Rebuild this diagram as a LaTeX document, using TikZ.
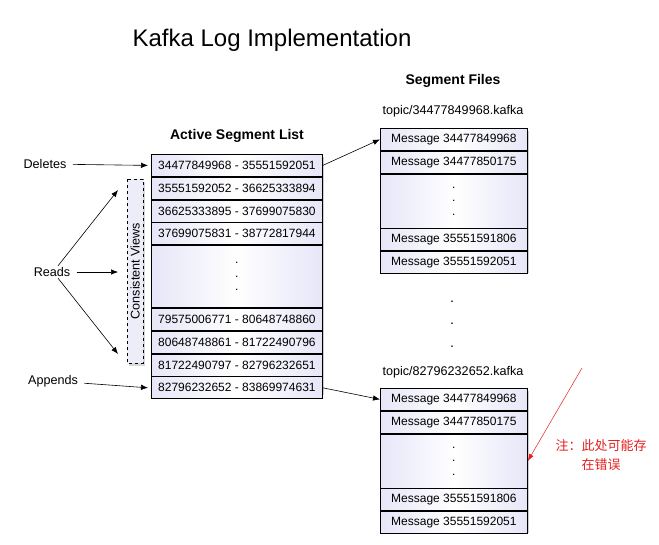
\documentclass[tikz,border=0pt]{standalone}
\usepackage{fontspec}
\setmainfont{Liberation Sans}
\newfontfamily\cjk{Noto Sans CJK SC}
\usetikzlibrary{positioning,shadows,arrows.meta}
\definecolor{lav}{RGB}{230,230,248}
\definecolor{notered}{RGB}{230,30,30}
\tikzset{
  cell/.style={draw,line width=.8pt,inner sep=0pt,minimum height=22pt,
    left color=lav,right color=lav,middle color=white,
    font=\fontsize{12}{14}\selectfont},
  listcell/.style={cell,minimum width=171pt},
  filecell/.style={cell,minimum width=147pt},
  gapcell/.style={align=center,font=\fontsize{12}{13.5}\selectfont},
  heading/.style={font=\bfseries\fontsize{14}{16}\selectfont},
  lbl/.style={font=\fontsize{12.6}{15}\selectfont},
  arr/.style={-{Latex[length=7pt,width=5.5pt]},line width=.6pt},
  shade box/.style={fill=white,drop shadow={shadow xshift=2pt,shadow yshift=-3pt,opacity=.4}},
}
\newcommand\vdotsrow{.\\.\\.}
\begin{document}
\begin{tikzpicture}[x=1pt,y=-1pt]
  \useasboundingbox (0,0) rectangle (659,544);
  \node[font=\fontsize{24}{28}\selectfont] (title) at (272,40) {Kafka Log Implementation};

  % active segment list
  \node[heading] (listhead) at (237,136) {Active Segment List};
  \fill[shade box] (151,154) rectangle (322,392);
  \node[listcell,anchor=north west] (l1) at (151,154) {34477849968 - 35551592051};
  \node[listcell,below=0pt of l1] (l2) {35551592052 - 36625333894};
  \node[listcell,below=0pt of l2] (l3) {36625333895 - 37699075830};
  \node[listcell,below=0pt of l3] (l4) {37699075831 - 38772817944};
  \node[listcell,minimum height=62pt,below=0pt of l4] (lgap) {};
  \node[gapcell] (ldots) at (lgap) {\vdotsrow};
  \node[listcell,below=0pt of lgap] (l5) {79575006771 - 80648748860};
  \node[listcell,below=0pt of l5] (l6) {80648748861 - 81722490796};
  \node[listcell,below=0pt of l6] (l7) {81722490797 - 82796232651};
  \node[listcell,below=0pt of l7] (l8) {82796232652 - 83869974631};

  % consistent views
  \node[draw,dashed,line width=.6pt,rotate=90,minimum width=184pt,minimum height=16pt,
    inner sep=0pt,fill=lav!70,drop shadow={shadow xshift=2pt,shadow yshift=-3pt,opacity=.3},
    lbl] (cv) at (135,271) {Consistent Views};

  % operations
  \node[lbl] (del) at (45,164) {Deletes};
  \node[lbl] (rd) at (52,272) {Reads};
  \node[lbl] (app) at (53,381) {Appends};
  \coordinate (rup) at (118,190);
  \coordinate (rmid) at (118,272);
  \coordinate (rdown) at (118,354);
  \draw[arr,shorten <=3pt] (del) -- (l1.west -| 148,0);
  \draw[arr,shorten <=3pt] (rd.east) -- (rmid);
  \draw[arr] ([xshift=6pt,yshift=-2pt]rd.north) -- (rup);
  \draw[arr] ([xshift=6pt,yshift=2pt]rd.south) -- (rdown);
  \draw[arr,shorten <=3pt] (app) -- (l8.west -| 148,0);

  % segment files
  \node[heading] (filehead) at (453,81) {Segment Files};
  \node[lbl] (topic1) at (453,111) {topic/34477849968.kafka};
  \fill[shade box] (380,128) rectangle (527,270);
  \node[filecell,anchor=north west] (a1) at (380,128) {Message 34477849968};
  \node[filecell,below=0pt of a1] (a2) {Message 34477850175};
  \node[filecell,minimum height=54pt,below=0pt of a2] (agap) {};
  \node[gapcell] (adots) at (agap) {\vdotsrow};
  \node[filecell,below=0pt of agap] (a3) {Message 35551591806};
  \node[filecell,below=0pt of a3] (a4) {Message 35551592051};

  \node[gapcell,font=\fontsize{14}{22.5}\selectfont] (between) at (452,324) {\vdotsrow};

  \node[lbl] (topic2) at (453,372) {topic/82796232652.kafka};
  \fill[shade box] (380,388) rectangle (527,530);
  \node[filecell,anchor=north west] (b1) at (380,388) {Message 34477849968};
  \node[filecell,below=0pt of b1] (b2) {Message 34477850175};
  \node[filecell,minimum height=54pt,below=0pt of b2] (bgap) {};
  \node[gapcell] (bdots) at (bgap) {\vdotsrow};
  \node[filecell,below=0pt of bgap] (b3) {Message 35551591806};
  \node[filecell,below=0pt of b3] (b4) {Message 35551592051};

  \draw[arr] (l1.east) -- (a1.west);
  \draw[arr] (l8.east) -- (b1.west);

  % note
  \node[text=notered,align=center,font=\cjk\fontsize{13}{19}\selectfont] (note) at (601,455)
    {注：此处可能存\\在错误};
  \coordinate (notetail) at (582,368);
  \draw[-{Latex[length=7pt,width=5pt]},notered,line width=.5pt] (notetail) -- (bgap.east);
\end{tikzpicture}
\end{document}
